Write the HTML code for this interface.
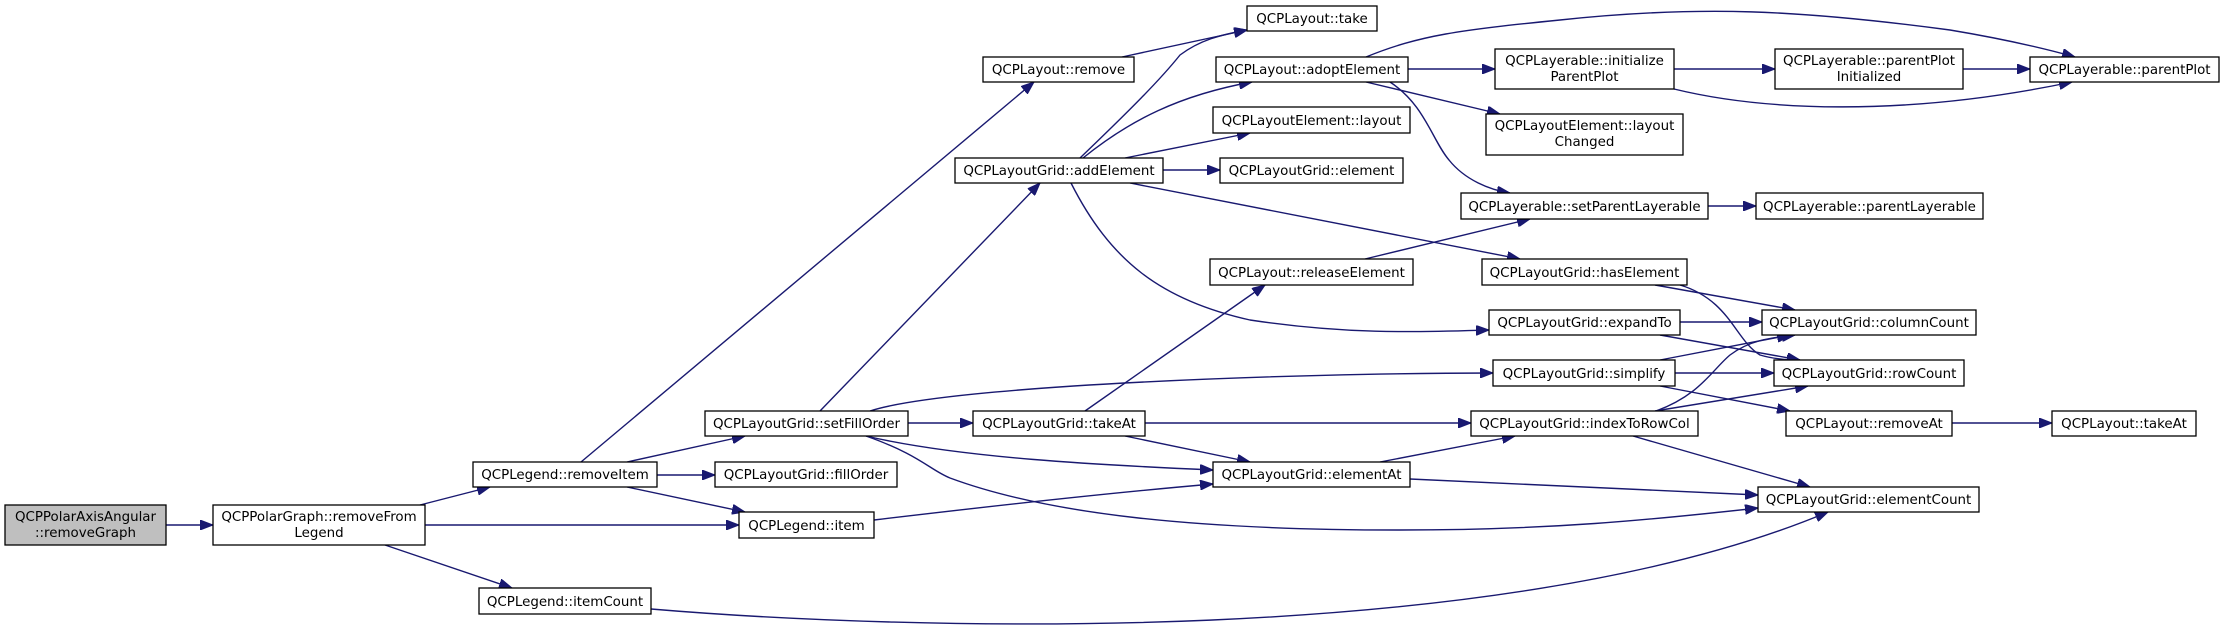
<!DOCTYPE html>
<html><head><meta charset="utf-8"><style>
html,body{margin:0;padding:0;background:#fff;}
svg{display:block;}
text{font-family:"DejaVu Sans","Liberation Sans",sans-serif;font-size:13.4px;fill:#000;text-anchor:middle;}
rect{fill:#fff;stroke:#000;stroke-width:1.3;}
path{fill:none;stroke:#191970;stroke-width:1.4;}
</style></head><body>
<svg width="2224" height="632" viewBox="0 0 2224 632" xmlns="http://www.w3.org/2000/svg">
<defs><marker id="a" markerUnits="userSpaceOnUse" markerWidth="14" markerHeight="10" refX="13" refY="5" orient="auto"><polygon points="0,0 13,5 0,10" fill="#191970" stroke="#191970"/></marker></defs>
<g marker-end="url(#a)">
<path d="M166,525 L213,525"/>
<path d="M420,505 L490,487"/>
<path d="M425,525 L739,525"/>
<path d="M385,545 L512,588"/>
<path d="M581,462 L1034,82"/>
<path d="M627,462 L745,436"/>
<path d="M657,475 L715,475"/>
<path d="M627,487 L745,512"/>
<path d="M874,520 C1000,505 1120,492 1213,484"/>
<path d="M651,609 C900,630 1500,650 1828,512"/>
<path d="M820,411 L1040,183"/>
<path d="M908,423 L973,423"/>
<path d="M870,411 C950,385 1300,373 1493,373"/>
<path d="M866,436 C960,458 1100,465 1213,470"/>
<path d="M866,436 C920,455 930,470 950,478 C1050,515 1200,530 1400,530 C1550,530 1650,520 1758,508"/>
<path d="M1085,411 L1265,285"/>
<path d="M1145,423 L1471,423"/>
<path d="M1125,436 L1250,462"/>
<path d="M1380,462 L1515,436"/>
<path d="M1410,479 L1758,495"/>
<path d="M1633,436 L1810,487"/>
<path d="M1656,411 C1700,395 1712,370 1730,355 C1750,340 1770,338 1795,335"/>
<path d="M1655,411 L1808,386"/>
<path d="M1660,360 L1790,335"/>
<path d="M1675,373 L1774,373"/>
<path d="M1660,386 L1790,411"/>
<path d="M1952,423 L2052,423"/>
<path d="M1680,322 L1762,322"/>
<path d="M1660,335 L1800,360"/>
<path d="M1655,285 L1795,310"/>
<path d="M1680,285 C1730,300 1735,340 1760,355 C1770,358 1785,360 1800,360"/>
<path d="M1080,158 C1130,110 1160,80 1180,55 C1200,40 1220,35 1247,30"/>
<path d="M1122,57 L1247,30"/>
<path d="M1083,158 C1130,120 1180,95 1252,82"/>
<path d="M1125,158 L1250,133"/>
<path d="M1163,170 L1220,170"/>
<path d="M1130,183 L1520,259"/>
<path d="M1071,183 C1110,260 1160,300 1250,320 C1350,335 1420,332 1489,330"/>
<path d="M1408,69 L1495,69"/>
<path d="M1366,82 L1500,114"/>
<path d="M1390,82 C1425,105 1432,140 1449,160 C1465,180 1490,190 1510,193"/>
<path d="M1366,57 C1420,35 1460,30 1560,20 C1700,5 1800,10 1950,30 C2010,40 2050,50 2075,57"/>
<path d="M1674,69 L1775,69"/>
<path d="M1674,89 C1760,110 1900,118 2072,82"/>
<path d="M1963,69 L2030,69"/>
<path d="M1365,259 L1530,219"/>
<path d="M1708,206 L1756,206"/>
</g>
<g>
<rect x="5" y="505" width="161" height="40" style="fill:#bfbfbf"/><text x="85.5" y="521">QCPPolarAxisAngular</text><text x="85.5" y="537">::removeGraph</text>
<rect x="213" y="505" width="212" height="40"/><text x="319" y="521">QCPPolarGraph::removeFrom</text><text x="319" y="537">Legend</text>
<rect x="473" y="462" width="184" height="25"/><text x="565" y="479">QCPLegend::removeItem</text>
<rect x="705" y="411" width="203" height="25"/><text x="806.5" y="428">QCPLayoutGrid::setFillOrder</text>
<rect x="973" y="411" width="172" height="25"/><text x="1059" y="428">QCPLayoutGrid::takeAt</text>
<rect x="715" y="462" width="182" height="25"/><text x="806" y="479">QCPLayoutGrid::fillOrder</text>
<rect x="739" y="512" width="135" height="26"/><text x="806.5" y="530">QCPLegend::item</text>
<rect x="479" y="588" width="172" height="26"/><text x="565" y="606">QCPLegend::itemCount</text>
<rect x="1247" y="6" width="130" height="25"/><text x="1312" y="23">QCPLayout::take</text>
<rect x="983" y="57" width="151" height="25"/><text x="1058.5" y="74">QCPLayout::remove</text>
<rect x="1216" y="57" width="192" height="25"/><text x="1312" y="74">QCPLayout::adoptElement</text>
<rect x="1213" y="107" width="197" height="26"/><text x="1311.5" y="125">QCPLayoutElement::layout</text>
<rect x="955" y="158" width="208" height="25"/><text x="1059" y="175">QCPLayoutGrid::addElement</text>
<rect x="1220" y="158" width="183" height="25"/><text x="1311.5" y="175">QCPLayoutGrid::element</text>
<rect x="1210" y="259" width="203" height="26"/><text x="1311.5" y="277">QCPLayout::releaseElement</text>
<rect x="1213" y="462" width="197" height="25"/><text x="1311.5" y="479">QCPLayoutGrid::elementAt</text>
<rect x="1495" y="49" width="179" height="40"/><text x="1584.5" y="65">QCPLayerable::initialize</text><text x="1584.5" y="81">ParentPlot</text>
<rect x="1486" y="114" width="197" height="41"/><text x="1584.5" y="130">QCPLayoutElement::layout</text><text x="1584.5" y="146">Changed</text>
<rect x="1461" y="193" width="247" height="26"/><text x="1584.5" y="211">QCPLayerable::setParentLayerable</text>
<rect x="1482" y="259" width="205" height="26"/><text x="1584.5" y="277">QCPLayoutGrid::hasElement</text>
<rect x="1489" y="310" width="191" height="25"/><text x="1584.5" y="327">QCPLayoutGrid::expandTo</text>
<rect x="1493" y="360" width="182" height="26"/><text x="1584" y="378">QCPLayoutGrid::simplify</text>
<rect x="1471" y="411" width="227" height="25"/><text x="1584.5" y="428">QCPLayoutGrid::indexToRowCol</text>
<rect x="1775" y="49" width="188" height="40"/><text x="1869" y="65">QCPLayerable::parentPlot</text><text x="1869" y="81">Initialized</text>
<rect x="1756" y="193" width="227" height="26"/><text x="1869.5" y="211">QCPLayerable::parentLayerable</text>
<rect x="1762" y="310" width="214" height="25"/><text x="1869" y="327">QCPLayoutGrid::columnCount</text>
<rect x="1774" y="360" width="190" height="26"/><text x="1869" y="378">QCPLayoutGrid::rowCount</text>
<rect x="1786" y="411" width="166" height="25"/><text x="1869" y="428">QCPLayout::removeAt</text>
<rect x="1758" y="487" width="221" height="25"/><text x="1868.5" y="504">QCPLayoutGrid::elementCount</text>
<rect x="2030" y="57" width="189" height="25"/><text x="2124.5" y="74">QCPLayerable::parentPlot</text>
<rect x="2052" y="411" width="144" height="25"/><text x="2124" y="428">QCPLayout::takeAt</text>
</g>
</svg>
</body></html>
